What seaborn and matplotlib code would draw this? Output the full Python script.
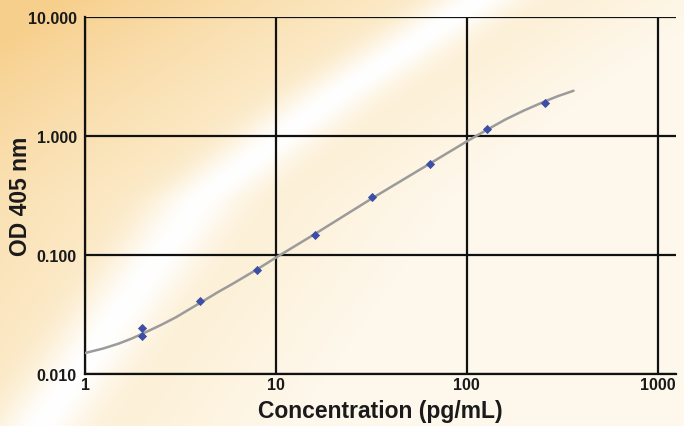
import matplotlib
matplotlib.use("Agg")
import matplotlib.pyplot as plt
import seaborn as sns
import numpy as np
import pandas as pd

# standards (pg/mL) and measured OD 405 nm
conc = [2, 2, 4, 8, 16, 32, 64, 128, 256]
od = [0.0244, 0.0209, 0.041, 0.0748, 0.147, 0.307, 0.582, 1.146, 1.89]

# fitted curve
fit_x = [1, 1.25, 1.5, 1.75, 2, 2.5, 3, 4, 5, 6, 8, 10, 16, 32, 64, 100,
         128, 160, 200, 256, 300, 363]
fit_y = [0.0150, 0.0164, 0.0180, 0.0198, 0.0218, 0.0258, 0.0300, 0.0395,
         0.0490, 0.0578, 0.0760, 0.0950, 0.150, 0.300, 0.585, 0.900, 1.13,
         1.38, 1.64, 1.95, 2.16, 2.40]

x_ticks = [1, 10, 100, 1000]
y_ticks = [0.01, 0.1, 1, 10]

sns.set_style("white")
plt.rcParams['font.family'] = ['Liberation Sans', 'DejaVu Sans']

W, H = 684, 427
fig = plt.figure(figsize=(W / 100, H / 100), dpi=100)

# background: orange wash with a white diagonal streak
yy, xx = np.mgrid[0:H, 0:W].astype(float)
band_y = np.array([0, 100, 200, 427])
band_x = np.array([480, 330, 200, 40])
g = np.interp(yy, band_y, band_x)
d = xx - g
orange = np.array([247, 207, 140]) / 255
cream = np.array([252, 236, 204]) / 255
pale = np.array([254, 248, 236]) / 255
white = np.array([1.0, 1.0, 1.0])
left_t = (np.clip(-d / 420, 0, 1) ** 1.3)[..., None]
left = cream * (1 - left_t) + orange * left_t
right_t = np.clip(d / 250, 0, 1)[..., None]
right = cream * (1 - right_t) + pale * right_t
img = np.where((d < 0)[..., None], left, right)
w = np.exp(-(d / 45) ** 2)[..., None]
img = img * (1 - w) + white * w

bg = fig.add_axes([0, 0, 1, 1], zorder=0)
bg.imshow(img, aspect='auto', interpolation='bilinear')
bg.axis('off')

ax = fig.add_axes([85 / W, 52 / H, (676 - 85) / W, (375 - 18) / H], zorder=1)
ax.set_facecolor('none')

curve = pd.DataFrame({'x': fit_x, 'y': fit_y})
pts = pd.DataFrame({'x': conc, 'y': od})
sns.lineplot(data=curve, x='x', y='y', ax=ax, color='#9b9b9b', linewidth=1.8,
             sort=False, zorder=3)
sns.scatterplot(data=pts, x='x', y='y', ax=ax, marker='D', s=22,
                color='#3b4fa6', edgecolor='#3b4fa6', linewidth=0, zorder=4)

ax.set_xscale('log')
ax.set_yscale('log')
ax.set_xlim(1, 1250)
ax.set_ylim(0.01, 10)
ax.set_xticks(x_ticks)
ax.set_xticklabels([str(t) for t in x_ticks])
ax.set_yticks(y_ticks)
ax.set_yticklabels(['%.3f' % t for t in y_ticks])
ax.minorticks_off()
ax.grid(True, which='major', color='#111111', linewidth=1.6)
ax.set_axisbelow(True)

for side in ['top', 'right']:
    ax.spines[side].set_visible(False)
for side in ['left', 'bottom']:
    ax.spines[side].set_color('#111111')
    ax.spines[side].set_linewidth(1.6)

ax.tick_params(axis='y', length=5, width=1.6, color='#111111', pad=1,
               labelsize=11.5)
ax.tick_params(axis='x', length=0, pad=2, labelsize=11.5)
for lab in ax.get_xticklabels() + ax.get_yticklabels():
    lab.set_fontweight('bold')
    lab.set_color('#1a1a1a')

ax.set_xlabel('Concentration (pg/mL)', fontsize=16.5, fontweight='bold',
              color='#1a1a1a', labelpad=5)
ax.set_ylabel('OD 405 nm', fontsize=16.5, fontweight='bold',
              color='#1a1a1a', labelpad=-3)

fig.savefig('out.png', dpi=100)
